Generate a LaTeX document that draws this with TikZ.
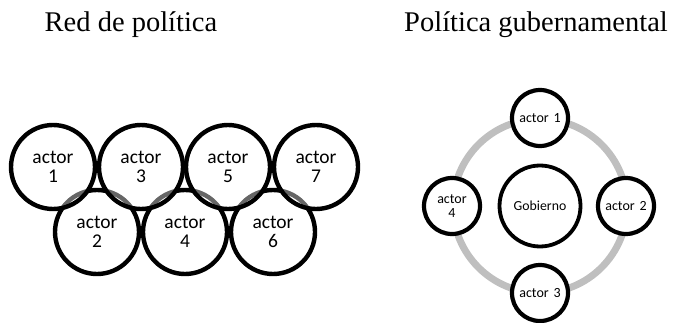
\documentclass[tikz,border=0pt]{standalone}
\usepackage{fontspec}
\setmainfont{Liberation Serif}
\newfontfamily\calib{Carlito}
\begin{document}
\begin{tikzpicture}[x=1pt,y=-1pt,
  title/.style={anchor=base,inner sep=0pt,font=\fontsize{28.5}{34}\selectfont},
  bigact/.style={circle,draw=black,line width=4.4pt,minimum size=84pt,inner sep=0pt,align=center,
    font=\calib\fontsize{19.5}{19}\selectfont},
  lowact/.style={bigact,fill=white},
  upact/.style={bigact,fill=white,fill opacity=0.4,text opacity=1},
  smact/.style={circle,draw=black,line width=4.2pt,fill=white,minimum size=56pt,inner sep=0pt,align=center,
    font=\calib\fontsize{14}{14.5}\selectfont},
  gov/.style={circle,draw=black,line width=3.8pt,fill=white,minimum size=81pt,inner sep=0pt,align=center,
    font=\calib\fontsize{13.8}{14}\selectfont},
  ring/.style={draw=black!25,line width=7pt}]
\useasboundingbox (0,0) rectangle (676,323);
\node[title] (t1) at (131,32) {Red de política};
\node[title] (t2) at (536,32) {Política gubernamental};
% left: policy network
\node[lowact] (a2) at (97,232) {actor\\2};
\node[lowact] (a4) at (185,232) {actor\\4};
\node[lowact] (a6) at (273,232) {actor\\6};
\node[upact] (a1) at (53,167) {actor\\1};
\node[upact] (a3) at (141,167) {actor\\3};
\node[upact] (a5) at (228,167) {actor\\5};
\node[upact] (a7) at (316,167) {actor\\7};
% right: government policy
\coordinate (c) at (540,206);
\draw[ring] (c) circle[radius=87];
\node[gov] (g) at (c) {Gobierno};
\node[smact] (b1) at (540,118) {actor\hspace{0.12em} 1};
\node[smact] (b2) at (626,206) {actor\hspace{0.12em} 2};
\node[smact] (b3) at (540,293) {actor\hspace{0.12em} 3};
\node[smact] (b4) at (452,206) {actor\\4};
\end{tikzpicture}
\end{document}
